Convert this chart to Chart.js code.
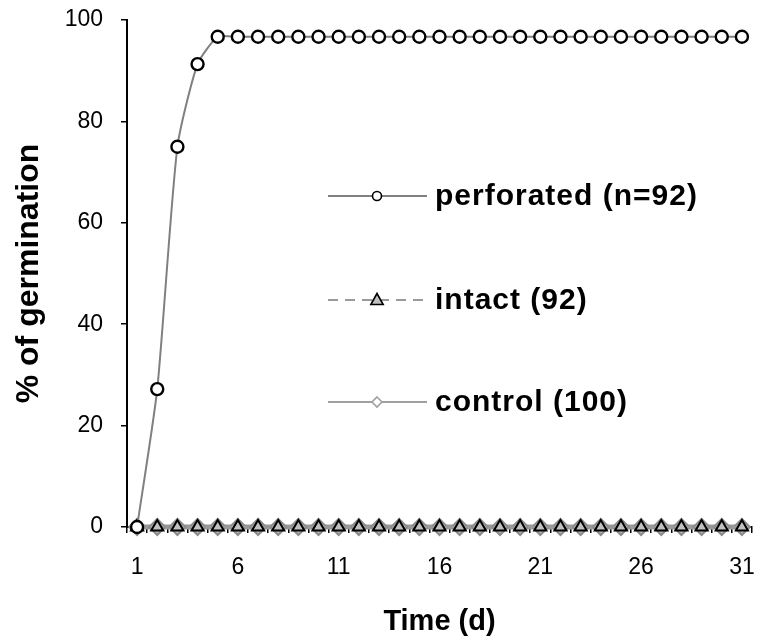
<!DOCTYPE html>
<html>
<head>
<meta charset="utf-8">
<script src="https://cdn.jsdelivr.net/npm/chart.js@4/dist/chart.umd.min.js"></script>
<style>
  html, body { margin: 0; padding: 0; background: #fff; }
  #wrap { width: 762px; height: 641px; position: relative; }
</style>
</head>
<body>
<div id="wrap"><canvas id="c" width="762" height="641"></canvas></div>
<script>
const days = [1,2,3,4,5,6,7,8,9,10,11,12,13,14,15,16,17,18,19,20,21,22,23,24,25,26,27,28,29,30,31];
const tickLabels = ['1','6','11','16','21','26','31'];
const yTicks = [0,20,40,60,80,100];
const perforated = [0,27.2,75.0,91.3,96.7,96.7,96.7,96.7,96.7,96.7,96.7,96.7,96.7,96.7,96.7,96.7,96.7,96.7,96.7,96.7,96.7,96.7,96.7,96.7,96.7,96.7,96.7,96.7,96.7,96.7,96.7];
const intact = [0,0,0,0,0,0,0,0,0,0,0,0,0,0,0,0,0,0,0,0,0,0,0,0,0,0,0,0,0,0,0];
const control = [0,0,0,0,0,0,0,0,0,0,0,0,0,0,0,0,0,0,0,0,0,0,0,0,0,0,0,0,0,0,0];
const seriesNames = ['perforated (n=92)', 'intact (92)', 'control (100)'];

const FONT = "'Liberation Sans', Arial, Helvetica, sans-serif";

function drawMarker(ctx, style, x, y, r, fill, stroke, lw) {
  ctx.save();
  ctx.fillStyle = fill; ctx.strokeStyle = stroke; ctx.lineWidth = lw;
  ctx.setLineDash([]);
  ctx.beginPath();
  if (style === 'circle') {
    ctx.arc(x, y, r, 0, Math.PI * 2);
  } else if (style === 'triangle') {
    ctx.moveTo(x, y - r);
    ctx.lineTo(x + r * 0.95, y + r * 0.7);
    ctx.lineTo(x - r * 0.95, y + r * 0.7);
    ctx.closePath();
  } else if (style === 'rectRot') {
    ctx.moveTo(x, y - r); ctx.lineTo(x + r, y); ctx.lineTo(x, y + r); ctx.lineTo(x - r, y);
    ctx.closePath();
  }
  ctx.fill(); ctx.stroke();
  ctx.restore();
}

const legendPlugin = {
  id: 'insideLegend',
  afterDatasetsDraw(chart) {
    const ctx = chart.ctx;
    const a = chart.chartArea;
    const items = [
      { y: a.top + 176, dash: [], color: '#808080', marker: 'circle', r: 4.5, fill: '#fff', stroke: '#000', lw: 1.6 },
      { y: a.top + 280, dash: [10, 7], color: '#9a9a9a', marker: 'triangle', r: 6.5, fill: '#c0c0c0', stroke: '#000', lw: 1.6 },
      { y: a.top + 382, dash: [], color: '#a0a0a0', marker: 'rectRot', r: 5, fill: '#fff', stroke: '#a0a0a0', lw: 1.6 }
    ];
    const x0 = a.left + 201, x1 = a.left + 300, xm = a.left + 250;
    items.forEach((it, i) => {
      ctx.save();
      ctx.strokeStyle = it.color; ctx.lineWidth = 2;
      ctx.setLineDash(it.dash);
      ctx.beginPath(); ctx.moveTo(x0, it.y); ctx.lineTo(x1, it.y); ctx.stroke();
      ctx.restore();
      drawMarker(ctx, it.marker, xm, it.y, it.r, it.fill, it.stroke, it.lw);
      ctx.save();
      ctx.fillStyle = '#000';
      ctx.font = "bold 30px " + FONT;
      try { ctx.letterSpacing = '1px'; } catch (e) {}
      ctx.textBaseline = 'middle';
      ctx.textAlign = 'left';
      ctx.fillText(seriesNames[i], x1 + 8, it.y + 1);
      ctx.restore();
    });
  }
};

new Chart(document.getElementById('c'), {
  type: 'line',
  data: {
    labels: days,
    datasets: [
      {
        label: seriesNames[0], data: perforated, clip: false,
        borderColor: '#808080', borderWidth: 2,
        tension: 0.2,
        pointStyle: 'circle', pointRadius: 6, pointBorderWidth: 2.4,
        pointBackgroundColor: '#fff', pointBorderColor: '#000'
      },
      {
        label: seriesNames[1], data: intact, clip: false,
        borderColor: '#9a9a9a', borderWidth: 2, borderDash: [10, 7],
        pointStyle: 'triangle', pointRadius: 7, pointBorderWidth: 2,
        pointBackgroundColor: '#c0c0c0', pointBorderColor: '#000'
      },
      {
        label: seriesNames[2], data: control, clip: false,
        borderColor: '#999999', borderWidth: 5,
        pointStyle: 'rectRot', pointRadius: 8, pointBorderWidth: 2,
        pointBackgroundColor: '#b8b8b8', pointBorderColor: '#8c8c8c'
      }
    ]
  },
  options: {
    responsive: false,
    animation: false,
    layout: { padding: { top: 20, right: 5, left: 0, bottom: 0 } },
    plugins: { legend: { display: false }, tooltip: { enabled: false } },
    scales: {
      x: {
        type: 'category',
        offset: true,
        border: { display: true, color: '#000', width: 2 },
        grid: { display: true, offset: true, drawOnChartArea: false, drawTicks: true, tickLength: 6, color: '#000', lineWidth: 1.5 },
        ticks: {
          autoSkip: false, maxRotation: 0, minRotation: 0, padding: 21,
          color: '#000', font: { family: FONT, size: 23 },
          callback: function(v, i) { const l = String(days[i]); return tickLabels.includes(l) ? l : ''; }
        },
        title: { display: true, text: 'Time (d)', color: '#000', font: { family: FONT, size: 29, weight: 'bold' }, padding: { top: 4, bottom: 2 } },
        afterFit: function(s) { s.height = 114; s.paddingLeft = 0; s.paddingRight = 0; }
      },
      y: {
        min: 0, max: 100,
        border: { display: true, color: '#000', width: 2 },
        grid: { display: true, drawOnChartArea: false, drawTicks: true, tickLength: 6, color: '#000', lineWidth: 1.5 },
        ticks: {
          stepSize: 20, padding: 18, color: '#000', font: { family: FONT, size: 23 },
          callback: function(v) { return yTicks.includes(v) ? String(v) : ''; }
        },
        title: { display: true, text: '% of germination', color: '#000', font: { family: FONT, size: 32, weight: 'bold' }, padding: { top: 10, bottom: 4 } },
        afterFit: function(s) { s.width = 127; s.paddingTop = 0; s.paddingBottom = 0; }
      }
    }
  },
  plugins: [legendPlugin]
});
</script>
</body>
</html>
